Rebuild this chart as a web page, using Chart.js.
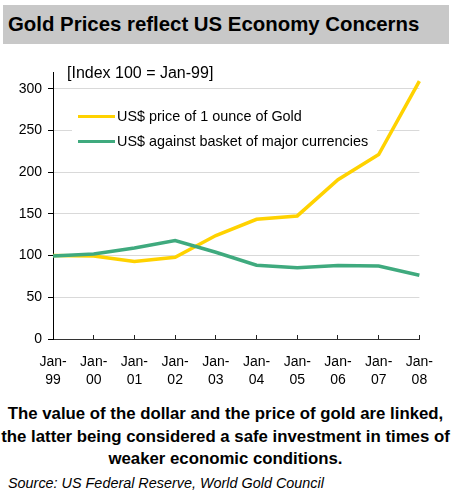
<!DOCTYPE html>
<html>
<head>
<meta charset="utf-8">
<script src="https://cdn.jsdelivr.net/npm/chart.js@4"></script>
<style>
  html, body { margin: 0; padding: 0; background: #fff; }
  body { width: 451px; height: 493px; position: relative; overflow: hidden; font-family: "Liberation Sans", Arial, sans-serif; color: #000; }
  #titre { position: absolute; left: 3px; top: 5px; width: 446px; height: 39px; background: #c8c8c8; }
  #titre span { position: absolute; left: 5px; top: 7px; font-size: 20.4px; font-weight: bold; line-height: 24px; white-space: nowrap; }
  #zone { position: absolute; left: 0; top: 0; width: 451px; height: 400px; }
  #indice { position: absolute; left: 67px; top: 64px; font-size: 16px; line-height: 18px; white-space: nowrap; }
  #legende { position: absolute; left: 72px; top: 103px; width: 305px; height: 50px; background: #fff; }
  .item { position: absolute; left: 6px; height: 18px; font-size: 14.4px; line-height: 18px; white-space: nowrap; }
  .item i { display: inline-block; width: 37px; height: 3px; vertical-align: middle; margin-right: 2px; position: relative; top: -1px; }
  #legende .item:nth-child(1) { top: 4px; }
  #legende .item:nth-child(2) { top: 29px; }
  #texte { position: absolute; left: 0; top: 403px; width: 451px; text-align: center; font-size: 16.8px; font-weight: bold; line-height: 22.5px; }
  #source { position: absolute; left: 8px; top: 475px; font-size: 14.4px; font-style: italic; line-height: 17px; white-space: nowrap; }
</style>
</head>
<body>
<div id="titre"><span>Gold Prices reflect US Economy Concerns</span></div>
<div id="zone"><canvas id="grafico"></canvas></div>
<div id="indice">[Index 100 = Jan-99]</div>
<div id="legende"></div>
<div id="texte">The value of the dollar and the price of gold are linked,<br>the latter being considered a safe investment in times of<br>weaker economic conditions.</div>
<div id="source">Source: US Federal Reserve, World Gold Council</div>

<script>
const ANOS = ['Jan-99', 'Jan-00', 'Jan-01', 'Jan-02', 'Jan-03', 'Jan-04', 'Jan-05', 'Jan-06', 'Jan-07', 'Jan-08'];
const OURO = [100, 99.5, 93, 98, 124, 143.5, 147.5, 191, 221, 309];
const DOLAR = [99.5, 102, 109, 118, 104, 88.5, 85.5, 88, 87.5, 76.5];
const NOMES = ['US$ price of 1 ounce of Gold', 'US$ against basket of major currencies'];
const CORES = ['#ffd200', '#3faa7e'];
const TICKS_Y = [0, 50, 100, 150, 200, 250, 300];

// legenda em HTML, com fundo branco por cima da grade
const legenda = document.getElementById('legende');
NOMES.forEach((nome, i) => {
  const div = document.createElement('div');
  div.className = 'item';
  div.innerHTML = `<i style="background:${CORES[i]}"></i>${nome}`;
  legenda.appendChild(div);
});

const grafico = new Chart(document.getElementById('grafico'), {
  type: 'line',
  data: {
    labels: ANOS.map(a => a.replace('-', '-\n').split('\n')),
    datasets: [{
      label: NOMES[0],
      data: OURO,
      borderColor: CORES[0],
      borderWidth: 3.5,
      pointRadius: 0,
      tension: 0,
      order: 1
    }, {
      label: NOMES[1],
      data: DOLAR,
      borderColor: CORES[1],
      borderWidth: 3.5,
      pointRadius: 0,
      tension: 0,
      order: 0
    }]
  },
  options: {
    responsive: true,
    maintainAspectRatio: false,
    animation: false,
    layout: { padding: { top: 72, right: 23, bottom: 0, left: 0 } },
    plugins: { legend: { display: false }, tooltip: { enabled: false } },
    scales: {
      x: {
        offset: false,
        afterFit: (s) => { s.height = 61; },
        grid: { drawOnChartArea: false, drawTicks: true, tickLength: -4, tickColor: '#222', tickWidth: 1 },
        border: { color: '#333', width: 1 },
        ticks: {
          color: '#000',
          padding: 18,
          maxRotation: 0,
          autoSkip: false,
          font: { family: '"Liberation Sans", Arial, sans-serif', size: 14, lineHeight: 1.3 }
        }
      },
      y: {
        min: 0,
        max: 320,
        afterFit: (s) => { s.width = 53; },
        afterBuildTicks: (s) => { s.ticks = TICKS_Y.map(v => ({ value: v })); },
        grid: { color: '#d9d9d9', lineWidth: 1, tickLength: 5, tickColor: '#000' },
        border: { color: '#000', width: 1 },
        ticks: {
          color: '#000',
          padding: 6,
          font: { family: '"Liberation Sans", Arial, sans-serif', size: 14 }
        }
      }
    }
  }
});
</script>
</body>
</html>
